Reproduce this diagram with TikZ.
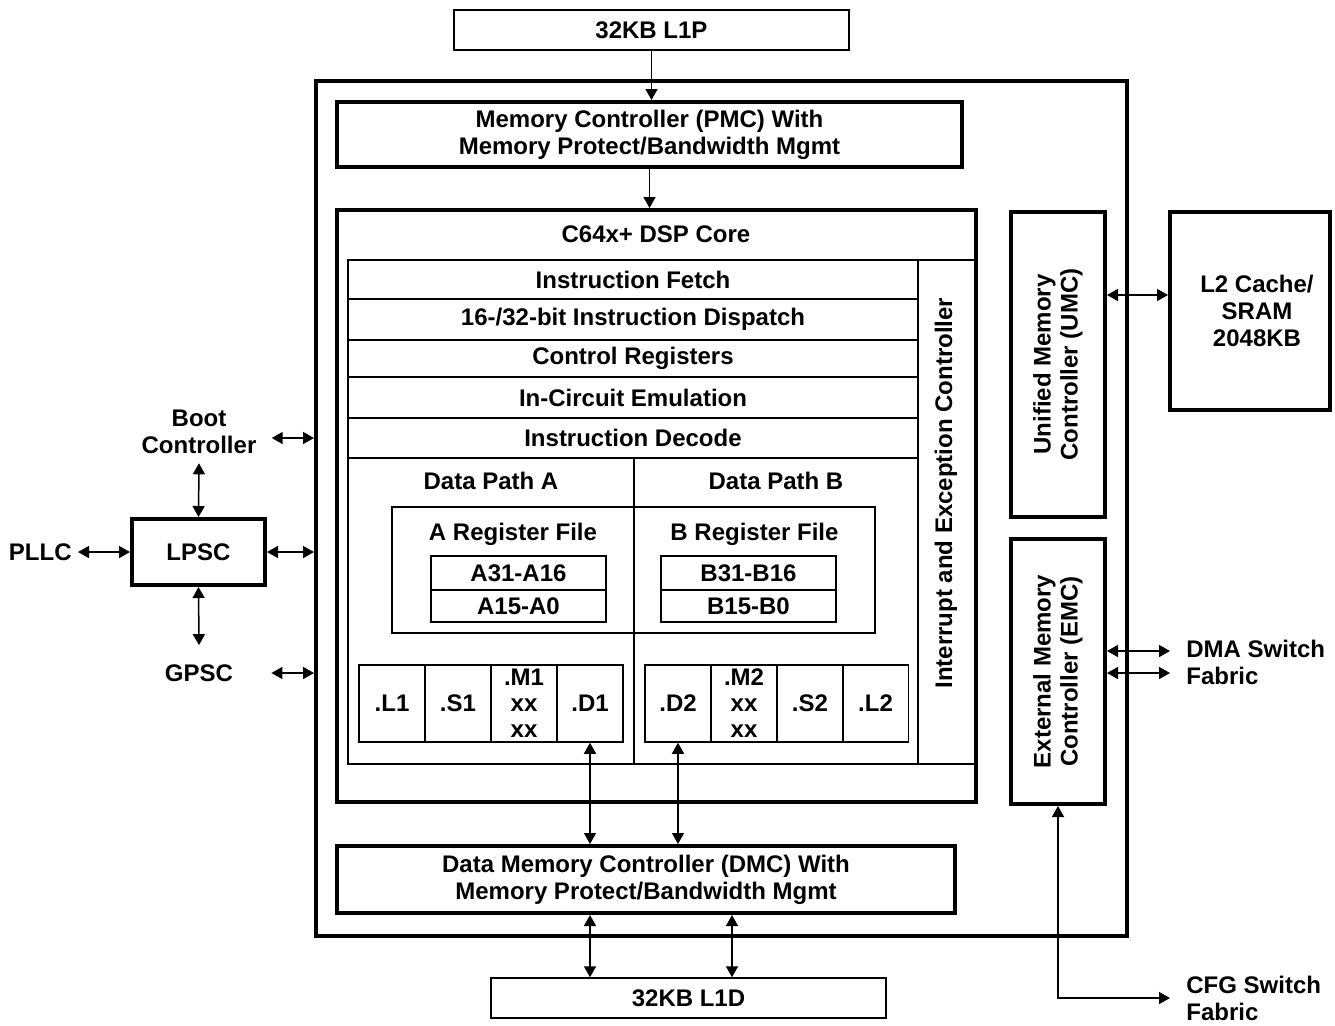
\documentclass[tikz,border=0pt]{standalone}
\usepackage{fontspec}
\setmainfont{Liberation Sans}
\usetikzlibrary{arrows.meta, positioning}

\tikzset{
  blk/.style = {draw, line width=2pt, inner sep=0pt, align=center},
  cell/.style = {draw, line width=0.75pt, inner sep=0pt, align=center},
  lbl/.style = {inner sep=0pt, align=center},
  sarr/.style = {line width=0.75pt, -{Triangle[length=5.5pt,width=6pt]}},
  darr/.style = {line width=0.75pt,
    {Triangle[length=5.5pt,width=6pt]}-{Triangle[length=5.5pt,width=6pt]}}
}

\begin{document}
\begin{tikzpicture}[
    x=0.5pt, y=-0.5pt,
    every node/.append style = {font=\fontsize{12}{13.5}\selectfont\bfseries}
  ]
  \useasboundingbox (0,0) rectangle (1335,1025);

  % memories and the megamodule frame
  \node[cell, minimum width=197.5pt, minimum height=20pt] (l1p) at (651.5,30) {32KB L1P};
  \node[blk, minimum width=405.5pt, minimum height=427.5pt] (soc) at (721.5,508.5) {};
  \node[blk, minimum width=312.5pt, minimum height=32.5pt] (pmc) at (649.5,134.5)
    {Memory Controller (PMC) With\\Memory Protect/Bandwidth Mgmt};

  % DSP core
  \node[blk, minimum width=319.5pt, minimum height=296pt] (core) at (656.5,506) {};
  \node[lbl] (coretitle) at (656,234) {C64x+ DSP Core};
  \node[cell, minimum width=285pt, minimum height=19.5pt] (fetch) at (633,279.5) {Instruction Fetch};
  \node[cell, minimum width=285pt, minimum height=20.5pt] (dispatch) at (633,319.5) {16-/32-bit Instruction Dispatch};
  \node[cell, minimum width=285pt, minimum height=18.5pt] (ctrlreg) at (633,358.5) {Control Registers};
  \node[cell, minimum width=285pt, minimum height=20.5pt] (ice) at (633,397.5) {In-Circuit Emulation};
  \node[cell, minimum width=285pt, minimum height=20pt] (decode) at (633,438) {Instruction Decode};
  \node[cell, minimum width=28.5pt, minimum height=252pt] (irq) at (946.5,512) {};
  \node[lbl, rotate=90] (irqtxt) at (946,493) {Interrupt and Exception Controller};

  % data paths
  \node[cell, minimum width=143pt, minimum height=153pt] (patha) at (491,611) {};
  \node[cell, minimum width=142pt, minimum height=153pt] (pathb) at (776,611) {};
  \node[lbl] (pathalbl) at (491,481) {Data Path A};
  \node[lbl] (pathblbl) at (776,481) {Data Path B};
  \node[cell, minimum width=121pt, minimum height=63pt] (rega) at (513,570) {};
  \node[cell, minimum width=120.5pt, minimum height=63pt] (regb) at (754.5,570) {};
  \node[lbl] (regalbl) at (513,534) {A Register File};
  \node[lbl] (regblbl) at (754.5,534) {B Register File};
  \node[cell, minimum width=87.5pt, minimum height=17pt] (ahi) at (518.5,573) {A31-A16};
  \node[cell, minimum width=87.5pt, minimum height=16pt] (alo) at (518.5,606) {A15-A0};
  \node[cell, minimum width=87.5pt, minimum height=17pt] (bhi) at (748.5,573) {B31-B16};
  \node[cell, minimum width=87.5pt, minimum height=16pt] (blo) at (748.5,606) {B15-B0};

  % functional units
  \foreach \nm/\cx/\txt in {l1/392/.L1, s1/458/.S1, m1/524/{.M1\\xx\\xx}, d1/590/.D1,
      d2/678/.D2, m2/744/{.M2\\xx\\xx}, s2/810/.S2, l2u/875.5/.L2}
    \node[cell, minimum width=33pt, minimum height=38.5pt,
      font=\fontsize{12}{13}\selectfont\bfseries] (\nm) at (\cx,703.5) {\txt};

  \node[blk, minimum width=309pt, minimum height=33.5pt] (dmc) at (646,879.5)
    {Data Memory Controller (DMC) With\\Memory Protect/Bandwidth Mgmt};
  \node[cell, minimum width=197.5pt, minimum height=20pt] (l1d) at (688.5,998) {32KB L1D};

  % right side
  \node[blk, minimum width=47pt, minimum height=152.5pt] (umc) at (1058,364.5) {};
  \node[lbl, rotate=90] (umctxt) at (umc.center) {Unified Memory\\Controller (UMC)};
  \node[blk, minimum width=80pt, minimum height=99pt] (l2) at (1250,311) {};
  \node[lbl] (l2txt) at (1257,311) {L2 Cache/\\SRAM\\2048KB};
  \node[blk, minimum width=47pt, minimum height=132.5pt] (emc) at (1058,671.5) {};
  \node[lbl, rotate=90] (emctxt) at (emc.center) {External Memory\\Controller (EMC)};
  \node[lbl, anchor=west, align=left] (dma) at (1186,662) {DMA Switch\\Fabric};
  \node[lbl, anchor=west, align=left] (cfg) at (1186,998) {CFG Switch\\Fabric};
  \coordinate (dmaend) at (1170,662);
  \coordinate (cfgend) at (1170,998);

  % left side
  \node[blk, minimum width=66.5pt, minimum height=33pt] (lpsc) at (198.5,552) {LPSC};
  \node[lbl] (boot) at (199,432) {Boot\\Controller};
  \node[lbl, anchor=east] (pllc) at (72,552) {PLLC};
  \node[lbl] (gpsc) at (199,673) {GPSC};

  % connections
  \draw[sarr] (l1p.south) -- (l1p.south |- pmc.north);
  \draw[sarr] (pmc.south) -- (pmc.south |- core.north);
  \draw[darr] (d1.south) -- (d1.south |- dmc.north);
  \draw[darr] (d2.south) -- (d2.south |- dmc.north);
  \draw[darr] ([xshift=-49.25pt]l1d.north) -- ([xshift=-49.25pt]l1d.north |- dmc.south);
  \draw[darr] ([xshift=21.75pt]l1d.north) -- ([xshift=21.75pt]l1d.north |- dmc.south);
  \draw[darr] ([yshift=8pt]l2.west) -- ([yshift=8pt]l2.west -| umc.east);
  \draw[darr] ([yshift=10.25pt]emc.east) -- ([yshift=10.25pt]emc.east -| dmaend);
  \draw[darr] ([yshift=-0.75pt]emc.east) -- ([yshift=-0.75pt]emc.east -| dmaend);
  \draw[darr] (emc.south) |- (cfgend);

  \draw[darr] ([xshift=7.5pt,yshift=-3pt]boot.east) -- ([yshift=-3pt]boot.east -| soc.west);
  \draw[darr] ([yshift=-4.5pt]boot.south) -- (lpsc.north);
  \draw[darr] ([xshift=3pt]pllc.east) -- (lpsc.west);
  \draw[darr] (lpsc.east) -- (lpsc.east -| soc.west);
  \draw[darr] (lpsc.south) -- ([yshift=9.5pt]gpsc.north);
  \draw[darr] ([xshift=19pt]gpsc.east) -- (gpsc.east -| soc.west);
\end{tikzpicture}
\end{document}
